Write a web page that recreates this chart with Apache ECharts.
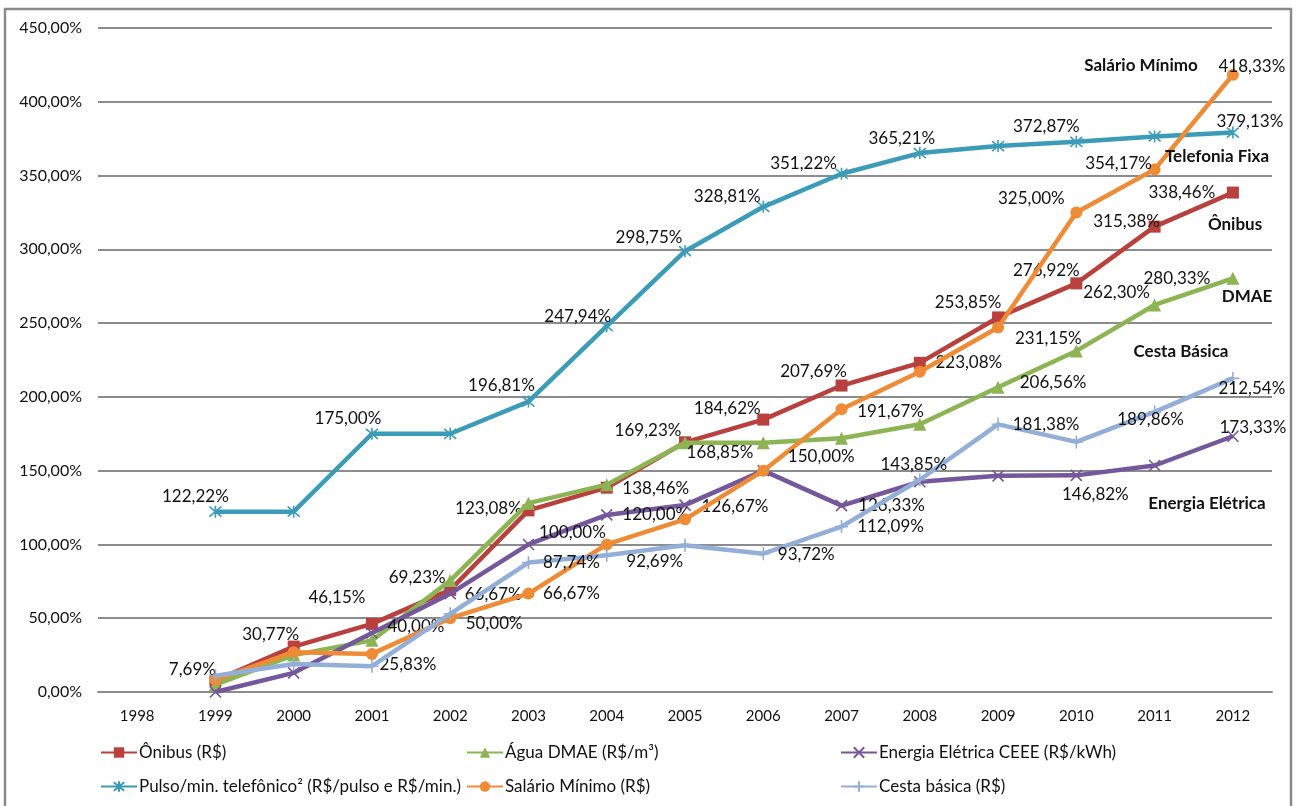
<!DOCTYPE html>
<html>
<head>
<meta charset="utf-8">
<script src="https://cdn.jsdelivr.net/npm/echarts@6/dist/echarts.min.js"></script>
<style>
  html, body { margin: 0; padding: 0; background: #fff; }
  #chart { width: 1296px; height: 806px; }
</style>
</head>
<body>
<div id="chart"></div>
<script>
// Variação acumulada de preços e do salário mínimo (base 1998)
const years = ['1998','1999','2000','2001','2002','2003','2004','2005','2006','2007','2008','2009','2010','2011','2012'];
const yTicks = [0, 50, 100, 150, 200, 250, 300, 350, 400, 450];

const onibus   = [null, 7.69, 30.77, 46.15, 69.23, 123.08, 138.46, 169.23, 184.62, 207.69, 223.08, 253.85, 276.92, 315.38, 338.46];
const agua     = [null, 5, 25, 35, 75.5, 128, 140.5, 168.85, 169, 172, 181.5, 206.56, 231.15, 262.30, 280.33];
const energia  = [null, 0, 13, 40.00, 66.67, 100.00, 120.00, 126.67, 150.00, 126.33, 142.5, 146.5, 146.82, 153.5, 173.33];
const pulso    = [null, 122.22, 122.22, 175.00, 175.00, 196.81, 247.94, 298.75, 328.81, 351.22, 365.21, 370, 372.87, 376.5, 379.13];
const salario  = [null, 8.33, 27, 25.83, 50.00, 66.67, 100.00, 117, 150.00, 191.67, 217, 247, 325.00, 354.17, 418.33];
const cesta    = [null, 11, 19, 17.5, 53, 87.74, 92.69, 99.5, 93.72, 112.09, 143.85, 181.38, 169.5, 189.86, 212.54];

const names = [
  'Ônibus (R$)',
  'Água DMAE (R$/m³)',
  'Energia Elétrica CEEE (R$/kWh)',
  'Pulso/min. telefônico² (R$/pulso e R$/min.)',
  'Salário Mínimo (R$)',
  'Cesta básica (R$)'
];

// Where each shown value label sits relative to its point (pixels)
const labelOffsets = [
  { '1999': [-23,-11], '2000': [-23,-12], '2001': [-35,-26], '2002': [-33,-12], '2003': [-40,-2],
    '2004': [49,1], '2005': [-37,-12], '2006': [-36,-11], '2007': [-28,-14], '2008': [49,0],
    '2009': [-30,-15], '2010': [-30,-13], '2011': [-28,-5], '2012': [-51,0] },
  { '2005': [35,10], '2009': [55,-5], '2010': [-28,-12], '2011': [-38,-12], '2012': [-56,0] },
  { '2001': [44,-6], '2002': [43,1], '2003': [44,-12], '2004': [49,0], '2005': [50,1],
    '2007': [50,0], '2010': [19,19], '2012': [20,-9] },
  { '1999': [-20,-15], '2001': [-24,-15], '2003': [-27,-16], '2004': [-29,-10], '2005': [-36,-14],
    '2006': [-36,-10], '2007': [-38,-10], '2008': [-18,-15], '2010': [-30,-15], '2012': [17,-11] },
  { '2001': [36,11], '2002': [44,5], '2003': [43,0], '2006': [58,-14], '2007': [49,2],
    '2010': [-45,-14], '2011': [-36,-6], '2012': [19,-8] },
  { '2003': [43,0], '2004': [48,6], '2006': [43,1], '2007': [49,0], '2008': [-6,-15],
    '2009': [48,0], '2011': [-4,8], '2012': [19,10] }
];

const colors = ['#B9403D', '#8CB453', '#75579B', '#3B9CB8', '#EF8A35', '#93AED7'];

const xPath = 'path://M0,0L10,10M10,0L0,10';
const starPath = 'path://M0,0L10,10M10,0L0,10M5,-1L5,11';
const plusPath = 'path://M5,0L5,10M0,5L10,5';
const symbols = ['rect', 'triangle', xPath, starPath, 'circle', plusPath];
const symbolSizes = [12, 13, 11, 12, 12, 13];

const seriesValues = [onibus, agua, energia, pulso, salario, cesta];

const fmt = v => v.toFixed(2).replace('.', ',') + '%';
const FONT = 'Lato, "Open Sans", sans-serif';

const series = seriesValues.map((vals, i) => {
  const data = vals.map((v, j) => {
    const off = labelOffsets[i][years[j]];
    if (v === null) return null;
    if (!off) return v;
    return {
      value: v,
      label: {
        show: true, position: 'inside', offset: off,
        formatter: p => fmt(p.value),
        color: '#111', fontSize: 17, fontFamily: FONT
      }
    };
  });
  const isStroke = (i === 2 || i === 3 || i === 5);
  return {
    name: names[i],
    type: 'line',
    data: data,
    symbol: symbols[i],
    symbolSize: symbolSizes[i],
    showSymbol: true,
    lineStyle: { color: colors[i], width: 4.5 },
    itemStyle: isStroke
      ? { color: colors[i], borderColor: colors[i], borderWidth: 1.6 }
      : { color: colors[i] },
    emphasis: { disabled: true },
    label: { show: false },
    z: 2 + i
  };
});

const legendPos = [
  [100, 744], [466, 744], [840, 744],
  [100, 778], [466, 778], [840, 778]
];
const legends = names.map((n, i) => ({
  data: [n],
  left: legendPos[i][0],
  top: legendPos[i][1],
  itemWidth: 36,
  itemHeight: 13,
  itemGap: 0,
  padding: 0,
  textStyle: { fontSize: 17, fontFamily: FONT, color: '#111', padding: [0, 0, 0, -3] },
  selectedMode: false
}));

const tags = [
  { text: 'Salário Mínimo', x: 1141, y: 66 },
  { text: 'Telefonia Fixa', x: 1217, y: 157 },
  { text: 'Ônibus', x: 1235, y: 225 },
  { text: 'DMAE', x: 1247, y: 297 },
  { text: 'Cesta Básica', x: 1181, y: 352 },
  { text: 'Energia Elétrica', x: 1207, y: 504 }
];

const chart = echarts.init(document.getElementById('chart'), null, { renderer: 'canvas' });
chart.setOption({
  animation: false,
  backgroundColor: '#fff',
  color: colors,
  grid: { left: 98, right: 24, top: 28, bottom: 114, containLabel: false },
  xAxis: {
    type: 'category',
    data: years,
    boundaryGap: true,
    axisLine: { show: true, lineStyle: { color: '#8C8C8C', width: 2 } },
    axisTick: { show: false },
    axisLabel: { color: '#111', fontSize: 15, fontFamily: FONT, margin: 17 }
  },
  yAxis: {
    type: 'value',
    min: yTicks[0],
    max: yTicks[yTicks.length - 1],
    interval: yTicks[1] - yTicks[0],
    axisLine: { show: false },
    axisTick: { show: false },
    splitLine: { show: true, lineStyle: { color: '#8C8C8C', width: 2 } },
    axisLabel: { color: '#111', fontSize: 16, fontFamily: FONT, margin: 16, formatter: v => fmt(v) }
  },
  legend: legends,
  series: series,
  graphic: [
    {
      type: 'rect',
      shape: { x: 5, y: 9, width: 1286, height: 805 },
      style: { fill: 'none', stroke: '#8A8A8A', lineWidth: 2.5 },
      silent: true, z: 0
    }
  ].concat(tags.map(t => ({
    type: 'text',
    x: t.x, y: t.y,
    style: {
      text: t.text, fill: '#111',
      font: 'bold 17px ' + FONT,
      textAlign: 'center', textVerticalAlign: 'middle'
    },
    silent: true, z: 100
  })))
});
</script>
</body>
</html>
